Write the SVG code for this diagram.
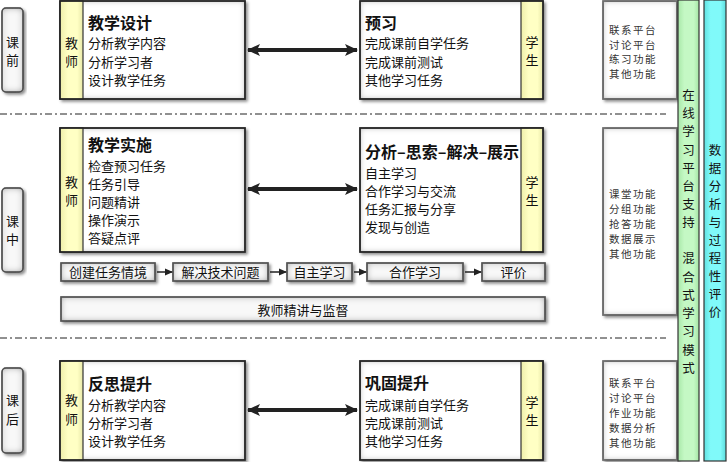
<svg xmlns="http://www.w3.org/2000/svg" width="727" height="462" viewBox="0 0 727 462">
<defs>
<style>
text{font-family:"Noto Sans CJK SC","Noto Sans",sans-serif;fill:#111}
.t{font-size:16px;font-weight:bold}
.l{font-size:13px}
.c{font-size:13px;text-anchor:middle}
.p{font-size:10.5px;letter-spacing:1.5px;fill:#333}
.v{font-size:12.5px;text-anchor:middle}
.bx{fill:#fff;stroke:#222;stroke-width:1.5;filter:url(#box)}
.gb{fill:#f8f8f8;stroke:#333;stroke-width:1.5;filter:url(#box2)}
.ys{fill:url(#yel);stroke:#333;stroke-width:1.2}
.dl{stroke:#222;stroke-width:1;stroke-dasharray:7 3 2 3;fill:none}
.ba{stroke:#222;stroke-width:4;marker-start:url(#ah2);marker-end:url(#ah)}
.fa{stroke:#222;stroke-width:1.5;marker-end:url(#sh)}
</style>
<linearGradient id="yel" x1="0" y1="0" x2="1" y2="0">
<stop offset="0" stop-color="#eeeeaa"/><stop offset="0.35" stop-color="#ffffc4"/><stop offset="0.75" stop-color="#ffffc4"/><stop offset="1" stop-color="#e8e8a8"/>
</linearGradient>
<linearGradient id="grn" x1="0" y1="0" x2="1" y2="0">
<stop offset="0" stop-color="#a8e8a8"/><stop offset="0.3" stop-color="#c4f8c4"/><stop offset="0.75" stop-color="#c4f8c4"/><stop offset="1" stop-color="#a4e4a4"/>
</linearGradient>
<linearGradient id="cyn" x1="0" y1="0" x2="1" y2="0">
<stop offset="0" stop-color="#60e0e0"/><stop offset="0.3" stop-color="#80fafa"/><stop offset="0.75" stop-color="#80fafa"/><stop offset="1" stop-color="#5cdcdc"/>
</linearGradient>
<filter id="box" x="-10%" y="-10%" width="125%" height="125%">
<feOffset in="SourceAlpha" dx="2" dy="2" result="o"/>
<feGaussianBlur in="o" stdDeviation="1.5" result="ob"/>
<feFlood flood-color="#000" flood-opacity="0.45"/>
<feComposite in2="ob" operator="in" result="drop"/>
<feFlood flood-color="#888" result="f2"/>
<feComposite in="f2" in2="SourceAlpha" operator="out" result="outside"/>
<feGaussianBlur in="outside" stdDeviation="3" result="ib"/>
<feComposite in="ib" in2="SourceAlpha" operator="in" result="inner"/>
<feMerge><feMergeNode in="drop"/><feMergeNode in="SourceGraphic"/><feMergeNode in="inner"/></feMerge>
</filter>
<filter id="box2" x="-10%" y="-20%" width="125%" height="150%">
<feOffset in="SourceAlpha" dx="2" dy="2" result="o"/>
<feGaussianBlur in="o" stdDeviation="1.5" result="ob"/>
<feFlood flood-color="#000" flood-opacity="0.45"/>
<feComposite in2="ob" operator="in" result="drop"/>
<feFlood flood-color="#666" result="f2"/>
<feComposite in="f2" in2="SourceAlpha" operator="out" result="outside"/>
<feGaussianBlur in="outside" stdDeviation="3.5" result="ib"/>
<feComposite in="ib" in2="SourceAlpha" operator="in" result="inner"/>
<feMerge><feMergeNode in="drop"/><feMergeNode in="SourceGraphic"/><feMergeNode in="inner"/></feMerge>
</filter>
<marker id="ah" markerUnits="userSpaceOnUse" markerWidth="14" markerHeight="12" refX="12" refY="6" orient="auto"><path d="M0,0 L13,6 L0,12 L3,6 Z" fill="#222"/></marker>
<marker id="ah2" markerUnits="userSpaceOnUse" markerWidth="14" markerHeight="12" refX="12" refY="6" orient="auto-start-reverse"><path d="M0,0 L13,6 L0,12 L3,6 Z" fill="#222"/></marker>
<marker id="sh" markerUnits="userSpaceOnUse" markerWidth="8" markerHeight="8" refX="7" refY="4" orient="auto"><path d="M0,0.5 L8,4 L0,7.5 Z" fill="#222"/></marker>
</defs>

<g id="separators">
<line class="dl" x1="0" y1="114" x2="666" y2="114"/>
<line class="dl" x1="0" y1="338" x2="666" y2="338"/>
</g>

<g id="phase-pre">
<rect class="gb" x="2" y="8" width="21" height="84" rx="4"/>
<text class="c" x="12.5" y="47">课</text><text class="c" x="12.5" y="65">前</text>
</g>
<g id="phase-in">
<rect class="gb" x="2" y="188" width="21" height="84" rx="4"/>
<text class="c" x="12.5" y="226">课</text><text class="c" x="12.5" y="244">中</text>
</g>
<g id="phase-post">
<rect class="gb" x="2" y="368" width="21" height="85" rx="4"/>
<text class="c" x="12.5" y="405">课</text><text class="c" x="12.5" y="424">后</text>
</g>

<g id="teacher1">
<rect class="bx" x="60" y="1" width="185" height="98"/>
<rect class="ys" x="60" y="1" width="23" height="98"/>
<rect x="60" y="1" width="185" height="98" fill="none" stroke="#222" stroke-width="1.5"/>
<text class="c" x="71.5" y="48">教</text><text class="c" x="71.5" y="66">师</text>
<text class="t" x="88" y="29">教学设计</text>
<text class="l" x="88" y="48">分析教学内容</text>
<text class="l" x="88" y="67">分析学习者</text>
<text class="l" x="88" y="85">设计教学任务</text>
</g>
<g id="student1">
<rect class="bx" x="360" y="1" width="183" height="98"/>
<rect class="ys" x="521" y="1" width="22" height="98"/>
<rect x="360" y="1" width="183" height="98" fill="none" stroke="#222" stroke-width="1.5"/>
<text class="c" x="532" y="47">学</text><text class="c" x="532" y="65">生</text>
<text class="t" x="365" y="29">预习</text>
<text class="l" x="365" y="48">完成课前自学任务</text>
<text class="l" x="365" y="67">完成课前测试</text>
<text class="l" x="365" y="85">其他学习任务</text>
</g>
<g id="platform1">
<rect class="bx" x="603" y="1" width="74" height="98"/>
<text class="p" x="609" y="34">联系平台</text>
<text class="p" x="609" y="49">讨论平台</text>
<text class="p" x="609" y="63">练习功能</text>
<text class="p" x="609" y="78">其他功能</text>
</g>

<g id="teacher2">
<rect class="bx" x="60" y="128" width="185" height="124"/>
<rect class="ys" x="60" y="128" width="23" height="124"/>
<rect x="60" y="128" width="185" height="124" fill="none" stroke="#222" stroke-width="1.5"/>
<text class="c" x="71.5" y="187">教</text><text class="c" x="71.5" y="205">师</text>
<text class="t" x="88" y="151">教学实施</text>
<text class="l" x="88" y="171">检查预习任务</text>
<text class="l" x="88" y="189">任务引导</text>
<text class="l" x="88" y="207">问题精讲</text>
<text class="l" x="88" y="225">操作演示</text>
<text class="l" x="88" y="243">答疑点评</text>
</g>
<g id="student2">
<rect class="bx" x="360" y="128" width="183" height="124"/>
<rect class="ys" x="521" y="128" width="22" height="124"/>
<rect x="360" y="128" width="183" height="124" fill="none" stroke="#222" stroke-width="1.5"/>
<text class="c" x="532" y="187">学</text><text class="c" x="532" y="205">生</text>
<text class="t" x="365" y="158">分析–思索–解决–展示</text>
<text class="l" x="365" y="178">自主学习</text>
<text class="l" x="365" y="196">合作学习与交流</text>
<text class="l" x="365" y="214">任务汇报与分享</text>
<text class="l" x="365" y="232">发现与创造</text>
</g>
<g id="platform2">
<rect class="bx" x="603" y="128" width="74" height="187"/>
<text class="p" x="609" y="198">课堂功能</text>
<text class="p" x="609" y="213">分组功能</text>
<text class="p" x="609" y="228">抢答功能</text>
<text class="p" x="609" y="243">数据展示</text>
<text class="p" x="609" y="258">其他功能</text>
</g>

<g id="flow1"><rect class="gb" x="61" y="263" width="94" height="18"/><text class="c" x="108" y="277">创建任务情境</text></g>
<g id="flow2"><rect class="gb" x="173" y="263" width="95" height="18"/><text class="c" x="220.5" y="277">解决技术问题</text></g>
<g id="flow3"><rect class="gb" x="287" y="263" width="65" height="18"/><text class="c" x="319.5" y="277">自主学习</text></g>
<g id="flow4"><rect class="gb" x="367" y="263" width="96" height="18"/><text class="c" x="415" y="277">合作学习</text></g>
<g id="flow5"><rect class="gb" x="482" y="263" width="63" height="18"/><text class="c" x="513.5" y="277">评价</text></g>
<g id="supervise"><rect class="gb" x="61" y="297" width="484" height="24"/><text class="c" x="303" y="314.5">教师精讲与监督</text></g>

<g id="teacher3">
<rect class="bx" x="60" y="361" width="185" height="99"/>
<rect class="ys" x="60" y="361" width="23" height="99"/>
<rect x="60" y="361" width="185" height="99" fill="none" stroke="#222" stroke-width="1.5"/>
<text class="c" x="71.5" y="405">教</text><text class="c" x="71.5" y="424">师</text>
<text class="t" x="88" y="390">反思提升</text>
<text class="l" x="88" y="410">分析教学内容</text>
<text class="l" x="88" y="428">分析学习者</text>
<text class="l" x="88" y="446">设计教学任务</text>
</g>
<g id="student3">
<rect class="bx" x="360" y="361" width="183" height="99"/>
<rect class="ys" x="521" y="361" width="22" height="99"/>
<rect x="360" y="361" width="183" height="99" fill="none" stroke="#222" stroke-width="1.5"/>
<text class="c" x="532" y="407">学</text><text class="c" x="532" y="425">生</text>
<text class="t" x="365" y="389">巩固提升</text>
<text class="l" x="365" y="410">完成课前自学任务</text>
<text class="l" x="365" y="428">完成课前测试</text>
<text class="l" x="365" y="446">其他学习任务</text>
</g>
<g id="platform3">
<rect class="bx" x="603" y="361" width="74" height="99"/>
<text class="p" x="609" y="387">联系平台</text>
<text class="p" x="609" y="402">讨论平台</text>
<text class="p" x="609" y="417">作业功能</text>
<text class="p" x="609" y="432">数据分析</text>
<text class="p" x="609" y="447">其他功能</text>
</g>

<g id="online-bar">
<rect x="678" y="0" width="21" height="461" fill="url(#grn)" stroke="#333" stroke-width="1.2"/>
<text class="v" x="688.5" y="100">在</text><text class="v" x="688.5" y="118">线</text><text class="v" x="688.5" y="136">学</text><text class="v" x="688.5" y="155">习</text>
<text class="v" x="688.5" y="173">平</text><text class="v" x="688.5" y="191">台</text><text class="v" x="688.5" y="209">支</text><text class="v" x="688.5" y="227">持</text>
<text class="v" x="688.5" y="263">混</text><text class="v" x="688.5" y="282">合</text><text class="v" x="688.5" y="300">式</text><text class="v" x="688.5" y="318">学</text>
<text class="v" x="688.5" y="336">习</text><text class="v" x="688.5" y="355">模</text><text class="v" x="688.5" y="373">式</text>
</g>
<g id="data-bar">
<rect x="704" y="0" width="22" height="461" fill="url(#cyn)" stroke="#333" stroke-width="1.2"/>
<text class="v" x="715" y="155">数</text><text class="v" x="715" y="173">据</text><text class="v" x="715" y="191">分</text><text class="v" x="715" y="209">析</text>
<text class="v" x="715" y="227">与</text><text class="v" x="715" y="245">过</text><text class="v" x="715" y="263">程</text><text class="v" x="715" y="281">性</text>
<text class="v" x="715" y="299">评</text><text class="v" x="715" y="317">价</text>
</g>

<g id="connectors">
<line class="ba" x1="248" y1="50" x2="357" y2="50"/>
<line class="ba" x1="248" y1="189" x2="357" y2="189"/>
<line class="ba" x1="248" y1="410" x2="357" y2="410"/>
<line class="fa" x1="157" y1="272" x2="172" y2="272"/>
<line class="fa" x1="270" y1="272" x2="286" y2="272"/>
<line class="fa" x1="354" y1="272" x2="366" y2="272"/>
<line class="fa" x1="465" y1="272" x2="481" y2="272"/>
</g>
</svg>
